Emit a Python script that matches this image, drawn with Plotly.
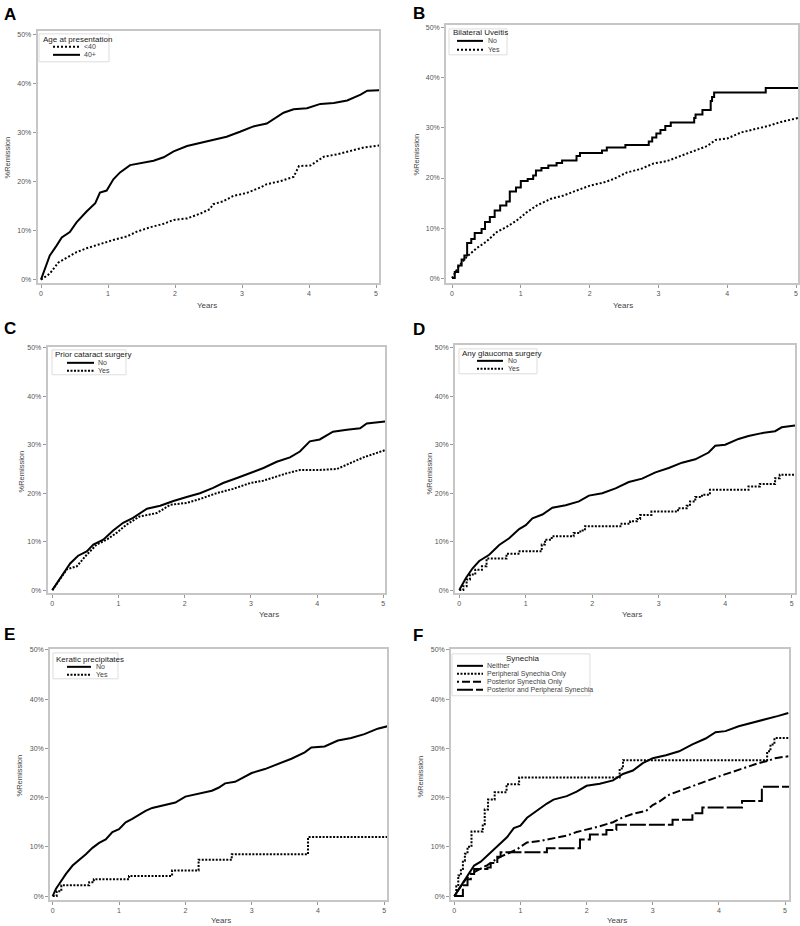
import plotly.graph_objects as go

# ---------------- DATA ----------------
# Panel A: Age at presentation
a_t_40plus = [0, 0.06, 0.13, 0.23, 0.31, 0.43, 0.53, 0.68, 0.81, 0.88, 0.98, 1.08, 1.18, 1.33, 1.48, 1.68, 1.83, 1.98, 2.18, 2.38, 2.57, 2.77, 2.97, 3.17, 3.37, 3.62, 3.77, 3.97, 4.17, 4.37, 4.57, 4.77, 4.87, 5.05]
a_y_40plus = [0, 2.2, 4.9, 6.9, 8.6, 9.7, 11.7, 13.9, 15.6, 17.8, 18.2, 20.5, 21.9, 23.4, 23.8, 24.3, 25.0, 26.2, 27.3, 27.9, 28.6, 29.2, 30.2, 31.3, 31.9, 34.1, 34.8, 35.0, 35.9, 36.1, 36.6, 37.8, 38.6, 38.7]
a_t_lt40 = [0, 0.13, 0.26, 0.38, 0.53, 0.68, 0.88, 1.08, 1.28, 1.43, 1.63, 1.83, 1.98, 2.18, 2.38, 2.52, 2.57, 2.72, 2.87, 3.07, 3.27, 3.37, 3.57, 3.77, 3.85, 4.02, 4.22, 4.42, 4.62, 4.82, 5.05]
a_y_lt40 = [0, 1.2, 3.5, 4.5, 5.6, 6.4, 7.3, 8.1, 8.8, 9.8, 10.7, 11.4, 12.2, 12.5, 13.5, 14.4, 15.4, 16.0, 17.1, 17.7, 18.8, 19.5, 20.1, 21.0, 23.2, 23.3, 25.1, 25.6, 26.3, 27.0, 27.4]

# Panel B: Bilateral uveitis
b_t_no = [0, 0.04, 0.09, 0.14, 0.18, 0.22, 0.28, 0.33, 0.43, 0.48, 0.55, 0.62, 0.70, 0.79, 0.84, 0.93, 1.0, 1.1, 1.18, 1.22, 1.3, 1.4, 1.52, 1.6, 1.81, 1.86, 2.18, 2.25, 2.52, 2.86, 2.91, 2.97, 3.03, 3.1, 3.18, 3.52, 3.54, 3.64, 3.76, 3.78, 3.81, 4.56, 5.06]
b_y_no = [0, 1.2, 2.5, 3.7, 4.5, 7.0, 7.8, 9.0, 9.8, 11.2, 12.2, 13.5, 14.5, 15.3, 17.3, 18.1, 19.4, 19.8, 20.5, 21.5, 22.0, 22.5, 23.0, 23.5, 24.4, 25.0, 25.5, 26.1, 26.6, 27.3, 28.1, 28.9, 29.6, 30.4, 31.1, 32.0, 32.7, 33.6, 35.4, 36.2, 37.1, 38.0, 38.0]
b_t_yes = [0, 0.09, 0.21, 0.36, 0.50, 0.65, 0.79, 0.94, 1.08, 1.23, 1.43, 1.62, 1.81, 2.01, 2.20, 2.35, 2.54, 2.74, 2.93, 3.13, 3.32, 3.52, 3.71, 3.83, 4.00, 4.20, 4.39, 4.59, 4.78, 5.06]
b_y_yes = [0, 2.2, 4.2, 6.0, 7.3, 9.2, 10.2, 11.5, 13.1, 14.5, 15.8, 16.5, 17.5, 18.5, 19.1, 19.8, 21.1, 21.8, 22.9, 23.4, 24.4, 25.4, 26.4, 27.6, 27.9, 29.1, 29.7, 30.4, 31.2, 32.1]

# Panel C: Prior cataract surgery
c_t_no = [0, 0.14, 0.27, 0.39, 0.52, 0.62, 0.77, 0.92, 1.07, 1.22, 1.43, 1.63, 1.83, 2.03, 2.23, 2.43, 2.58, 2.78, 2.99, 3.19, 3.39, 3.59, 3.74, 3.89, 4.04, 4.24, 4.45, 4.65, 4.75, 5.03]
c_y_no = [0, 2.9, 5.5, 7.1, 8.0, 9.4, 10.4, 12.3, 13.9, 14.9, 16.8, 17.4, 18.4, 19.2, 20.0, 21.1, 22.1, 23.1, 24.1, 25.2, 26.5, 27.4, 28.6, 30.7, 31.1, 32.7, 33.1, 33.4, 34.4, 34.8]
c_t_yes = [0, 0.14, 0.22, 0.37, 0.52, 0.67, 0.82, 0.97, 1.12, 1.32, 1.58, 1.78, 2.03, 2.23, 2.48, 2.73, 2.99, 3.19, 3.39, 3.54, 3.74, 4.04, 4.30, 4.50, 4.70, 5.03]
c_y_yes = [0, 2.7, 4.3, 4.9, 7.3, 9.4, 10.4, 11.8, 13.5, 15.2, 15.9, 17.6, 18.0, 18.8, 20.0, 20.9, 22.1, 22.6, 23.5, 24.1, 24.8, 24.8, 25.0, 26.2, 27.4, 28.9]

# Panel D: Any glaucoma surgery
d_t_no = [0, 0.1, 0.2, 0.3, 0.45, 0.6, 0.75, 0.9, 1.0, 1.1, 1.25, 1.4, 1.6, 1.8, 1.95, 2.15, 2.35, 2.55, 2.75, 2.95, 3.15, 3.35, 3.55, 3.75, 3.85, 4.0, 4.2, 4.35, 4.55, 4.75, 4.85, 5.05]
d_y_no = [0, 2.5, 4.5, 6.0, 7.3, 9.3, 10.7, 12.6, 13.4, 14.8, 15.6, 17.0, 17.5, 18.3, 19.5, 20.0, 21.0, 22.3, 23.0, 24.3, 25.2, 26.3, 27.0, 28.4, 29.8, 30.0, 31.2, 31.8, 32.4, 32.8, 33.6, 34.0]
d_t_yes = [0, 0.06, 0.11, 0.16, 0.24, 0.34, 0.41, 0.71, 0.89, 1.24, 1.29, 1.39, 1.72, 1.82, 1.89, 2.44, 2.57, 2.67, 2.72, 2.89, 3.29, 3.42, 3.47, 3.55, 3.65, 3.77, 4.35, 4.52, 4.75, 4.82, 5.05]
d_y_yes = [0, 0.8, 2.2, 3.2, 4.2, 4.9, 6.5, 7.5, 8.0, 9.4, 10.4, 11.1, 11.8, 12.3, 13.2, 13.7, 14.2, 14.7, 15.5, 16.2, 16.9, 17.4, 18.3, 19.2, 19.7, 20.7, 21.4, 21.9, 23.1, 23.8, 23.8]

# Panel E: Keratic precipitates
e_t_no = [0, 0.05, 0.1, 0.15, 0.2, 0.3, 0.4, 0.5, 0.6, 0.7, 0.8, 0.9, 1.0, 1.1, 1.2, 1.3, 1.4, 1.5, 1.7, 1.85, 2.0, 2.2, 2.4, 2.5, 2.6, 2.75, 2.9, 3.0, 3.2, 3.4, 3.6, 3.8, 3.9, 4.1, 4.3, 4.5, 4.7, 4.9, 5.05]
e_y_no = [0, 1.5, 2.5, 3.5, 4.5, 6.2, 7.3, 8.5, 9.8, 10.8, 11.5, 13.0, 13.6, 15.0, 15.7, 16.5, 17.3, 17.9, 18.5, 19.0, 20.2, 20.8, 21.4, 22.0, 22.9, 23.2, 24.3, 25.0, 25.8, 26.9, 27.9, 29.2, 30.2, 30.4, 31.6, 32.1, 32.9, 34.0, 34.5]
e_t_yes = [0, 0.06, 0.13, 0.55, 0.62, 1.15, 1.8, 2.2, 2.7, 3.85, 5.05]
e_y_yes = [0, 1.0, 2.2, 2.8, 3.4, 4.1, 5.2, 7.4, 8.5, 12.0, 12.0]

# Panel F: Synechia
f_t_neither = [0, 0.05, 0.1, 0.2, 0.3, 0.4, 0.5, 0.6, 0.7, 0.8, 0.9, 1.0, 1.1, 1.2, 1.3, 1.4, 1.5, 1.7, 1.85, 2.0, 2.2, 2.4, 2.55, 2.7, 2.85, 3.0, 3.2, 3.4, 3.6, 3.8, 3.95, 4.1, 4.3, 4.5, 4.7, 4.9, 5.05]
f_y_neither = [0, 1.0, 2.2, 4.0, 6.2, 7.0, 8.2, 9.5, 10.8, 12.0, 13.8, 14.3, 15.9, 16.9, 17.8, 18.8, 19.6, 20.3, 21.2, 22.4, 22.8, 23.5, 24.8, 25.5, 27.0, 28.0, 28.6, 29.4, 30.8, 32.0, 33.3, 33.5, 34.5, 35.2, 35.8, 36.6, 37.2]
f_t_periph = [0, 0.03, 0.06, 0.1, 0.13, 0.16, 0.2, 0.26, 0.43, 0.46, 0.51, 0.61, 0.79, 0.98, 2.5, 2.55, 4.73, 4.78, 4.84, 5.06]
f_y_periph = [0, 2.0, 4.2, 5.5, 7.2, 8.6, 10.0, 13.1, 14.6, 17.6, 19.6, 21.1, 22.7, 24.1, 25.9, 27.6, 29.4, 30.8, 32.1, 32.1]
f_t_post = [0, 0.05, 0.1, 0.15, 0.25, 0.35, 0.5, 0.6, 0.7, 0.8, 0.95, 1.0, 1.1, 1.3, 1.5, 1.7, 1.85, 2.0, 2.2, 2.4, 2.55, 2.7, 2.9, 3.0, 3.1, 3.25, 3.4, 3.6, 3.8, 4.0, 4.2, 4.4, 4.6, 4.75, 4.85, 5.05]
f_y_post = [0, 1.0, 2.0, 3.0, 4.5, 5.2, 6.3, 7.2, 8.0, 8.6, 9.5, 10.0, 10.9, 11.2, 11.8, 12.3, 13.0, 13.5, 14.2, 15.0, 16.0, 16.7, 17.3, 18.5, 19.2, 20.6, 21.3, 22.3, 23.3, 24.3, 25.2, 26.2, 27.0, 27.5, 28.0, 28.4]
f_t_both = [0, 0.13, 0.2, 0.25, 0.3, 0.5, 0.55, 0.65, 0.7, 1.4, 1.9, 2.05, 2.3, 2.45, 3.3, 3.6, 3.75, 4.35, 4.65, 5.06]
f_y_both = [0, 2.2, 3.4, 4.5, 5.5, 5.8, 6.7, 8.0, 8.9, 9.7, 11.5, 12.5, 13.4, 14.5, 15.5, 16.8, 18.0, 19.3, 22.2, 22.2]

panel_letters = ["A", "B", "C", "D", "E", "F"]
legend_titles = ["Age at presentation", "Bilateral Uveitis", "Prior cataract surgery",
                 "Any glaucoma surgery", "Keratic precipitates", "Synechia"]
x_ticks = [0, 1, 2, 3, 4, 5]
x_ticktext = ["0", "1", "2", "3", "4", "5"]
y_ticks = [0, 10, 20, 30, 40, 50]
y_ticktext = ["0%", "10%", "20%", "30%", "40%", "50%"]
x_title = "Years"
y_title = "%Remission"

# line styles
SOLID = "solid"
DOT = "2px,2px"
FINEDOT = "2px,1.5px"
DOTDASH = "2px,3px,8px,3px,8px,3px"
LONGDASH = "16px,3px"

# series per panel: (name, t, y, dash, shape)
panels_series = [
    [("<40", a_t_lt40, a_y_lt40, DOT, "linear"), ("40+", a_t_40plus, a_y_40plus, SOLID, "linear")],
    [("No", b_t_no, b_y_no, SOLID, "hv"), ("Yes", b_t_yes, b_y_yes, DOT, "linear")],
    [("No", c_t_no, c_y_no, SOLID, "linear"), ("Yes", c_t_yes, c_y_yes, FINEDOT, "linear")],
    [("No", d_t_no, d_y_no, SOLID, "linear"), ("Yes", d_t_yes, d_y_yes, FINEDOT, "hv")],
    [("No", e_t_no, e_y_no, SOLID, "linear"), ("Yes", e_t_yes, e_y_yes, FINEDOT, "hv")],
    [("Neither", f_t_neither, f_y_neither, SOLID, "linear"),
     ("Peripheral Synechia Only", f_t_periph, f_y_periph, FINEDOT, "hv"),
     ("Posterior Synechia Only", f_t_post, f_y_post, DOTDASH, "linear"),
     ("Posterior and Peripheral Synechia", f_t_both, f_y_both, LONGDASH, "hv")],
]

# ---------------- LAYOUT GEOMETRY (pixels in the 800x926 page) ----------------
W, H = 800, 926
# frame (left, right, top, bottom), x=0 px, x=5 px, y=0% px, y=50% px
geom = [
    (37.5, 379, 28.5, 281, 41.0, 376.0, 277.5, 32.0),
    (446, 798, 22, 281, 452.0, 796.0, 276.0, 25.0),
    (47.5, 385, 345, 592, 52.3, 383.3, 589.0, 346.0),
    (455, 795, 343, 592, 459.3, 791.7, 589.0, 346.0),
    (50, 387, 648, 900, 52.7, 384.3, 896.0, 649.0),
    (451, 789, 648, 900, 454.3, 785.0, 896.0, 649.0),
]
letter_pos = [(10, 12), (419, 11), (10, 327), (419, 328), (9, 634), (418, 635)]
xtitle_pos = [(207, 303), (623, 303), (269, 613), (632, 613), (221, 920), (617, 920)]
ytitle_pos = [(7, 155), (417, 152), (21, 470), (429, 472), (19, 775), (420, 776)]
# legend: box (l, t, r, b), title (x, y, anchor), line x0, x1, label x, row ys
legend_geom = [
    ((39, 31, 109, 59), (42, 37, "left"), 53, 80, 83, [44, 52]),
    ((449, 26, 507, 52), (452, 30, "left"), 457, 483, 487, [38, 47]),
    ((52, 348, 126, 373), (54, 353, "left"), 67, 94, 97, [361, 369]),
    ((459, 347, 537, 372), (461, 352, "left"), 477, 503, 507, [359, 367]),
    ((53, 652, 118, 678), (55, 659, "left"), 67, 91, 95, [666, 674]),
    ((452, 653, 590, 695), (522, 658, "center"), 457, 483, 486, [665, 673, 681, 689]),
]

FONT = "Liberation Sans, Arial, sans-serif"
FRAME = "#c6c6c6"


def px(x):
    return x / W


def py(y):
    return 1 - y / H


fig = go.Figure()
layout = dict(
    width=W, height=H, paper_bgcolor="white", plot_bgcolor="white",
    margin=dict(l=0, r=0, t=0, b=0, pad=0), showlegend=False,
    font=dict(family=FONT, size=7, color="#555555"),
)
annotations = []
shapes = []


def note(text, x, y, size, color, xanchor="center", angle=0):
    annotations.append(dict(text=text, x=px(x), y=py(y), xref="paper", yref="paper",
                            showarrow=False, xanchor=xanchor, yanchor="middle",
                            textangle=angle, borderpad=0,
                            font=dict(family=FONT, size=size, color=color)))


for i, series in enumerate(panels_series):
    n = "" if i == 0 else str(i + 1)
    fl, fr, ft, fb, x0p, x5p, y0p, y50p = geom[i]
    sx = (x5p - x0p) / 5.0
    sy = (y0p - y50p) / 50.0
    xr = [(fl - x0p) / sx, (fr - x0p) / sx]
    yr = [-(fb - y0p) / sy, 50 + (y50p - ft) / sy]
    common = dict(showline=True, mirror=True, linecolor=FRAME, linewidth=1.5,
                  showgrid=False, zeroline=False, ticks="outside", ticklen=3,
                  tickwidth=1, tickcolor="#999999", tickmode="array",
                  tickfont=dict(family=FONT, size=7, color="#555555"))
    layout["xaxis" + n] = dict(domain=[px(fl), px(fr)], range=xr, anchor="y" + n,
                               tickvals=x_ticks, ticktext=x_ticktext, **common)
    layout["yaxis" + n] = dict(domain=[py(fb), py(ft)], range=yr, anchor="x" + n,
                               tickvals=y_ticks, ticktext=y_ticktext, **common)
    for (name, t, y, dash, shape) in series:
        fig.add_trace(go.Scatter(x=t, y=y, mode="lines", name=name,
                                 line=dict(color="black", width=2, dash=dash, shape=shape),
                                 xaxis="x" + n, yaxis="y" + n, hoverinfo="skip"))

    # panel letter and axis titles
    lx, ly = letter_pos[i]
    note("<b>%s</b>" % panel_letters[i], lx, ly, 17, "black")
    tx, ty = xtitle_pos[i]
    note(x_title, tx, ty, 8, "#444444")
    tx, ty = ytitle_pos[i]
    note(y_title, tx, ty, 7.5, "#444444", angle=-90)

    # legend box (drawn inside the plot area, top left)
    (bl, bt, br, bb), (ttx, tty, tanchor), lx0, lx1, lbx, rows = legend_geom[i]
    shapes.append(dict(type="rect", xref="paper", yref="paper", x0=px(bl), x1=px(br),
                       y0=py(bb), y1=py(bt), line=dict(color="#dddddd", width=1),
                       fillcolor="white", layer="above"))
    note(legend_titles[i], ttx, tty, 8, "#222222", xanchor=tanchor)
    for (name, t, y, dash, shape), ry in zip(series, rows):
        shapes.append(dict(type="line", xref="paper", yref="paper", x0=px(lx0), x1=px(lx1),
                           y0=py(ry), y1=py(ry), layer="above",
                           line=dict(color="black", width=2, dash=dash)))
        note(name, lbx, ry, 7, "#444444", xanchor="left")

layout["annotations"] = annotations
layout["shapes"] = shapes
fig.update_layout(**layout)
fig.write_html("out.html", config={"displayModeBar": False},
               post_script="document.body.style.margin='0px';")
